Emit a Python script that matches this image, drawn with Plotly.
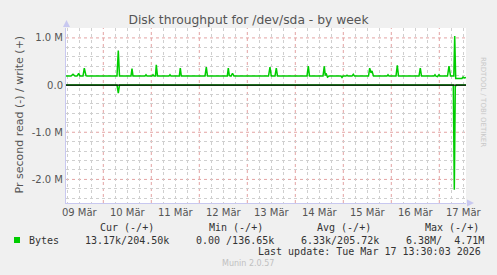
import pandas as pd
import plotly.graph_objects as go

# ---- data (hours after 2026-03-09 00:00, values in bytes/s) ----
write_hours = [5.35, 7.85, 8.85, 9.85, 10.85, 11.7, 12.35, 13.85, 14.5, 15.35, 15.85,
               30.85, 31.5, 32.1, 37.85, 38.35, 38.85, 44.85, 45.35, 45.85,
               48.35, 48.85, 49.35, 50.1, 50.5, 51.1, 56.85, 57.35, 57.85,
               62.0, 62.5, 63.0, 74.85, 75.5, 76.1,
               86.0, 86.5, 87.0, 87.85, 88.6, 89.35,
               106.6, 107.35, 108.0, 109.85, 110.5, 111.1,
               125.85, 126.5, 127.1, 133.85, 134.5, 135.0, 135.35, 136.1, 136.85,
               142.85, 143.35, 143.85, 145.35, 145.85, 146.35, 148.35, 149.0, 149.6,
               156.6, 157.2, 157.85, 158.35, 159.1, 165.85, 166.35, 166.85,
               170.35, 171.0, 171.6, 181.85, 182.5, 183.1,
               189.35, 189.85, 190.35, 191.1, 191.85, 192.35,
               196.1, 196.85, 197.6, 199.25, 199.7, 200.2,
               203.35, 203.85, 204.6, 205.35]
write_values = [0.19, 0.19, 0.23, 0.19, 0.19, 0.25, 0.19, 0.19, 0.36, 0.20, 0.19,
                0.19, 0.73, 0.19, 0.19, 0.35, 0.19, 0.19, 0.22, 0.19,
                0.19, 0.22, 0.19, 0.19, 0.43, 0.19, 0.19, 0.22, 0.19,
                0.19, 0.36, 0.19, 0.19, 0.38, 0.19,
                0.19, 0.36, 0.20, 0.19, 0.25, 0.19,
                0.19, 0.38, 0.19, 0.19, 0.36, 0.19,
                0.19, 0.40, 0.19, 0.19, 0.40, 0.20, 0.25, 0.17, 0.19,
                0.19, 0.16, 0.19, 0.19, 0.21, 0.19, 0.19, 0.23, 0.19,
                0.19, 0.36, 0.26, 0.30, 0.19, 0.19, 0.22, 0.19,
                0.19, 0.42, 0.19, 0.19, 0.36, 0.19,
                0.19, 0.22, 0.19, 0.18, 0.22, 0.19,
                0.19, 0.40, 0.19, 0.19, 1.04, 0.14,
                0.14, 0.17, 0.15, 0.16]
read_hours = [5.35, 30.85, 31.5, 32.1, 199.0, 199.5, 200.0, 200.5, 205.35]
read_values = [0.0, 0.0, -0.17, 0.0, 0.0, -2.22, -0.03, 0.0, 0.0]

y_tickvals = [-2e6, -1e6, 0, 1e6]
y_ticktext = ["-2.0 M", "-1.0 M", "0.0", "1.0 M"]

legend_headers = ["Cur (-/+)", "Min (-/+)", "Avg (-/+)", "Max (-/+)"]
legend_values = ["13.17k/204.50k", "0.00 /136.65k", "6.33k/205.72k", "6.38M/  4.71M"]
series_name = "Bytes"
last_update = "Last update: Tue Mar 17 13:30:03 2026"

base = pd.Timestamp("2026-03-09 00:00")
wt = [base + pd.Timedelta(hours=h) for h in write_hours]
rt = [base + pd.Timedelta(hours=h) for h in read_hours]
wv = [v * 1e6 for v in write_values]
rv = [v * 1e6 for v in read_values]

# grid positions: minor (grey) and major (red)
x_minor = [base + pd.Timedelta(hours=6 * k) for k in range(0, 37) if k % 4 != 0]
y_minor = [k * 2e5 for k in range(-13, 7) if k % 5 != 0]
x_major = [base + pd.Timedelta(days=d) for d in range(1, 9)]
y_major = [-2e6, -1e6, 1e6]

GREEN = "#00CC00"
W, H = 497, 275
L, R, T, B = 66, 466, 28, 203


def px(x):
    return (x - L) / (R - L)


def py(y):
    return (B - y) / (B - T)


fig = go.Figure()
fig.add_trace(go.Scatter(x=rt, y=rv, mode="lines", line=dict(color=GREEN, width=1.5),
                         showlegend=False, hoverinfo="skip"))
fig.add_trace(go.Scatter(x=wt, y=wv, mode="lines", line=dict(color=GREEN, width=1.5),
                         showlegend=False, hoverinfo="skip"))
# zero rule
fig.add_trace(go.Scatter(x=[wt[0], wt[-1]], y=[0, 0], mode="lines",
                         line=dict(color="#000000", width=1.2),
                         showlegend=False, hoverinfo="skip"))

GRID_MIN = "#CFCFCF"
GRID_MAJ = "#E3A3A3"
AXIS = "#C8C8F0"

fig.update_layout(
    width=W, height=H,
    margin=dict(l=L, r=W - R, t=T, b=H - B),
    paper_bgcolor="#F0F0F0", plot_bgcolor="#FFFFFF",
    font=dict(family="DejaVu Sans", size=10, color="#555555"),
    title=dict(text="Disk throughput for /dev/sda - by week", x=0.5, xanchor="center",
               y=1 - 19.5 / H, yanchor="middle", yref="container",
               font=dict(size=12.3, color="#555555")),
    xaxis=dict(type="date", range=["2026-03-09 05:21", "2026-03-17 13:21"],
               tick0="2026-03-09", dtick=86400000, ticklabelmode="period",
               tickformat="%d Mär", ticks="", showgrid=False, zeroline=False,
               showline=True, linecolor=AXIS, linewidth=1,
               tickfont=dict(size=10, color="#555555"),
               minor=dict(tickmode="array", tickvals=x_minor, showgrid=True,
                          gridcolor=GRID_MIN, griddash="dot", gridwidth=1)),
    yaxis=dict(range=[-2.5e6, 1.21e6], tickvals=y_tickvals, ticktext=y_ticktext,
               ticks="", showgrid=False, zeroline=False, showline=True,
               linecolor=AXIS, linewidth=1,
               tickfont=dict(size=10, color="#555555"),
               minor=dict(tickmode="array", tickvals=y_minor, showgrid=True,
                          gridcolor=GRID_MIN, griddash="dot", gridwidth=1)),
)

shapes = []
for xv in x_major:
    shapes.append(dict(type="line", xref="x", yref="paper", x0=xv, x1=xv, y0=0, y1=1,
                       layer="between", line=dict(color=GRID_MAJ, width=1, dash="dot")))
for yv in y_major:
    shapes.append(dict(type="line", xref="paper", yref="y", x0=0, x1=1, y0=yv, y1=yv,
                       layer="between", line=dict(color=GRID_MAJ, width=1, dash="dot")))
# axis arrows
shapes.append(dict(type="path", xref="paper", yref="paper", layer="above",
                   path=f"M {px(63)} {py(27)} L {px(70)} {py(27)} L {px(66.5)} {py(20)} Z",
                   fillcolor=AXIS, line=dict(width=0)))
shapes.append(dict(type="path", xref="paper", yref="paper", layer="above",
                   path=f"M {px(467)} {py(199.5)} L {px(467)} {py(206.5)} L {px(474)} {py(203)} Z",
                   fillcolor=AXIS, line=dict(width=0)))
# legend colour box
shapes.append(dict(type="rect", xref="paper", yref="paper",
                   x0=px(14), x1=px(20), y0=py(243), y1=py(237),
                   fillcolor=GREEN, line=dict(width=0)))
fig.update_layout(shapes=shapes)

mono = dict(family="DejaVu Sans Mono", size=10, color="#333333")
ann = []
ann.append(dict(text="Pr second read (-) / write (+)", x=px(10), y=py(115), xref="paper",
                yref="paper", textangle=-90, showarrow=False,
                font=dict(family="DejaVu Sans", size=11, color="#555555")))
ann.append(dict(text="RRDTOOL / TOBI OETIKER", x=px(489), y=py(55), xref="paper",
                yref="paper", textangle=90, showarrow=False,
                font=dict(family="DejaVu Sans", size=7, color="#C8C8C8")))
for hx, txt in zip([98.3, 206.7, 315, 422.7], legend_headers):
    ann.append(dict(text=txt, x=px(hx), y=py(227.3), xref="paper", yref="paper",
                    xanchor="left", yanchor="middle", showarrow=False, font=mono))
ann.append(dict(text=series_name, x=px(26.7), y=py(240), xref="paper", yref="paper",
                xanchor="left", yanchor="middle", showarrow=False, font=mono))
for vx, txt in zip([83.3, 194.3, 299, 404.3], legend_values):
    ann.append(dict(text=txt.replace(" ", "&nbsp;"), x=px(vx), y=py(240), xref="paper",
                    yref="paper", xanchor="left", yanchor="middle", showarrow=False,
                    font=mono))
ann.append(dict(text=last_update, x=px(483), y=py(251.7), xref="paper", yref="paper",
                xanchor="right", yanchor="middle", showarrow=False, font=mono))
ann.append(dict(text="Munin 2.0.57", x=px(248), y=py(263.7), xref="paper", yref="paper",
                xanchor="center", yanchor="middle", showarrow=False,
                font=dict(family="DejaVu Sans", size=8, color="#C0C0C0")))
fig.update_layout(annotations=ann)

fig.write_html("out.html", config={"displayModeBar": False})
